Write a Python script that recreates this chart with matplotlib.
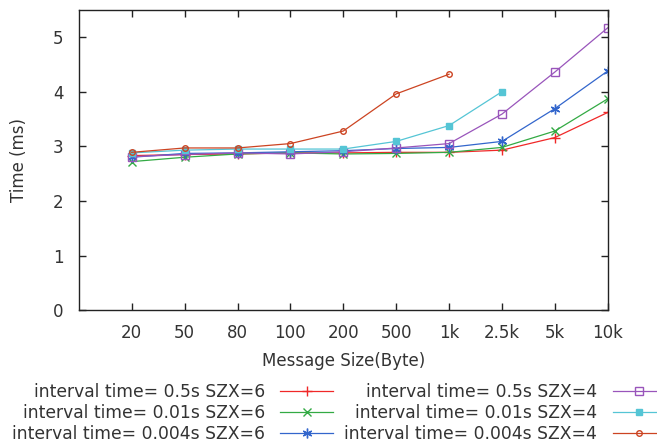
"""Message size vs. time for different interval times and SZX values."""

import matplotlib

matplotlib.use("Agg")
import matplotlib.pyplot as plt

# 数据
sizes = ["20", "50", "80", "100", "200", "500", "1k", "2.5k", "5k", "10k"]

t05_szx6 = [2.83, 2.85, 2.86, 2.88, 2.88, 2.89, 2.89, 2.93, 3.16, 3.62]
t001_szx6 = [2.72, 2.80, 2.86, 2.88, 2.86, 2.87, 2.89, 2.98, 3.28, 3.87]
t0004_szx6 = [2.80, 2.87, 2.88, 2.90, 2.92, 2.96, 2.98, 3.09, 3.69, 4.38]
t05_szx4 = [2.81, 2.85, 2.88, 2.86, 2.90, 2.97, 3.05, 3.59, 4.36, 5.17]
t001_szx4 = [2.88, 2.93, 2.95, 2.95, 2.95, 3.09, 3.38, 4.00]
t0004_szx4 = [2.89, 2.97, 2.97, 3.05, 3.28, 3.96, 4.32]

series = [
    ("interval time= 0.5s SZX=6", t05_szx6, "#f02828", "+", {"markersize": 7}),
    ("interval time= 0.01s SZX=6", t001_szx6, "#33aa44", "x", {"markersize": 6}),
    ("interval time= 0.004s SZX=6", t0004_szx6, "#3366cc", (6, 2, 0), {"markersize": 7}),
    ("interval time= 0.5s SZX=4", t05_szx4, "#9955bb", "s", {"fillstyle": "none", "markersize": 5.5}),
    ("interval time= 0.01s SZX=4", t001_szx4, "#55c5d5", "s", {"markersize": 5}),
    ("interval time= 0.004s SZX=4", t0004_szx4, "#cc4422", "o", {"fillstyle": "none", "markersize": 4}),
]

plt.rcParams["font.family"] = ["DejaVu Sans"]
plt.rcParams["font.size"] = 12

fig = plt.figure(figsize=(6.57, 4.45), dpi=100)
ax = fig.add_axes([0.120, 0.303, 0.805, 0.675])

x = list(range(1, len(sizes) + 1))
for label, vals, color, marker, extra in series:
    ax.plot(x[: len(vals)], vals, color=color, marker=marker, linewidth=0.9,
            markeredgewidth=1, label=label, **extra)

ax.set_xlim(0, 10)
ax.set_ylim(0, 5.5)
ax.set_xticks(x)
ax.set_xticklabels(sizes)
ax.set_yticks([0, 1, 2, 3, 4, 5])
ax.tick_params(direction="in", top=True, right=True, length=5, width=1,
               colors="#222222", labelcolor="#333333", labelsize=12)
ax.tick_params(axis="x", pad=10)
ax.tick_params(axis="y", pad=11)
for s in ax.spines.values():
    s.set_color("#222222")
    s.set_linewidth(1)

ax.set_xlabel("Message Size(Byte)", color="#333333", labelpad=7)
ax.set_ylabel("Time (ms)", color="#333333", labelpad=18)

leg = fig.legend(loc="upper left", ncol=2, markerfirst=False, frameon=False,
                 fontsize=12.3, handlelength=3.1, handletextpad=0.9,
                 columnspacing=0.65, labelspacing=0.18, borderaxespad=0,
                 borderpad=0, bbox_to_anchor=(0.018, 0.139),
                 bbox_transform=fig.transFigure)
for t in leg.get_texts():
    t.set_color("#333333")

plt.savefig("out.png", dpi=100)
